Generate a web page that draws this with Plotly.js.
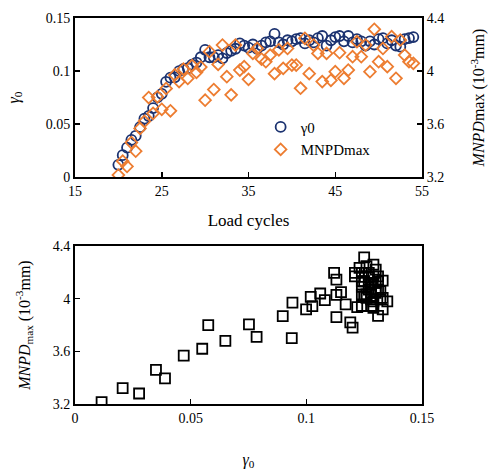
<!DOCTYPE html>
<html><head><meta charset="utf-8">
<script src="https://cdn.plot.ly/plotly-3.0.1.min.js"></script>
<style>body{margin:0;padding:0;background:#fff}#chart{width:489px;height:470px}</style>
</head><body><div id="chart"></div>
<script>
const cycles = [20,20.5,21,21.5,22,22.5,23,23.5,24,24.5,25,25.5,26,26.5,27,27.5,28,28.5,29,29.5,
30,30.5,31,31.5,32,32.5,33,33.5,34,34.5,35,35.5,36,36.5,37,37.5,38,38.5,39,39.5,
40,40.5,41,41.5,42,42.5,43,43.5,44,44.5,45,45.5,46,46.5,47,47.5,48,48.5,49,49.5,
50,50.5,51,51.5,52,52.5,53,53.5,54];
const gamma0 = [0.0115,0.0206,0.0277,0.035,0.0389,0.047,0.055,0.0576,0.065,0.0752,0.0785,0.0898,0.0937,0.094,0.0999,0.1019,0.1026,0.106,0.108,0.113,
0.120,0.113,0.113,0.115,0.112,0.117,0.119,0.121,0.126,0.124,0.122,0.125,0.121,0.124,0.127,0.128,0.135,0.127,0.125,0.129,
0.128,0.130,0.131,0.126,0.129,0.127,0.131,0.133,0.124,0.129,0.132,0.133,0.128,0.133,0.127,0.130,0.128,0.124,0.128,0.125,
0.130,0.131,0.126,0.129,0.124,0.123,0.130,0.131,0.132];
const mnpdMax = [3.215,3.32,3.28,3.46,3.395,3.567,3.62,3.80,3.68,3.805,3.711,3.868,3.70,3.97,3.92,4.015,3.944,4.04,3.99,4.03,
3.78,4.146,3.86,4.05,4.196,3.957,3.82,4.196,4.007,4.033,3.937,4.133,4.17,4.09,4.07,4.12,3.98,4.16,4.02,4.17,
4.045,4.045,3.87,4.247,3.98,4.196,4.133,3.92,4.133,3.93,3.995,4.138,3.945,4.007,4.108,4.221,4.108,4.196,3.995,4.315,
4.07,4.17,4.033,4.259,3.945,4.234,4.12,4.07,4.058];
const xTopTicks = [15,25,35,45,55];
const yLeftTicks = [0,0.05,0.1,0.15];
const yLeftLabels = ['0','0.05','0.1','0.15'];
const mTicks = [3.2,3.6,4.0,4.4];
const mLabels = ['3.2','3.6','4','4.4'];
const xBotTicks = [0,0.05,0.1,0.15];
const xBotLabels = ['0','0.05','0.1','0.15'];

const F = 'Liberation Serif, Times New Roman, serif';
const navy = '#1b3270';
const orange = '#ED7D31';

const traces = [
  {x: cycles, y: gamma0, type:'scatter', mode:'markers', name:'γ0', xaxis:'x', yaxis:'y',
   marker:{symbol:'circle-open', size:10, color:navy, line:{width:1.8, color:navy}}},
  {x: cycles, y: mnpdMax, type:'scatter', mode:'markers', name:'MNPDmax', xaxis:'x', yaxis:'y2',
   marker:{symbol:'diamond-open', size:9, color:orange, line:{width:1.8, color:orange}}},
  {x: gamma0, y: mnpdMax, type:'scatter', mode:'markers', name:'scatter', showlegend:false, xaxis:'x2', yaxis:'y3',
   marker:{symbol:'square-open', size:10, color:'#000', line:{width:1.8, color:'#000'}}}
];

const ax = {showgrid:false, zeroline:false, showline:true, linecolor:'#000', linewidth:2, mirror:true,
  ticks:'inside', ticklen:5, tickwidth:1.5, tickcolor:'#000', tickfont:{family:F, size:14, color:'#000'}};

const layout = {
  width:489, height:470, paper_bgcolor:'#fff', plot_bgcolor:'#fff',
  margin:{l:75, r:67, t:18, b:66},
  showlegend:true,
  legend:{x:0.535, y:0.76, xanchor:'left', yanchor:'top', bgcolor:'rgba(0,0,0,0)',
    font:{family:F, size:15, color:'#000'}, itemwidth:30, tracegroupgap:0},
  xaxis: Object.assign({}, ax, {domain:[0,1], anchor:'y', range:[15,55], tickvals:xTopTicks,
    title:{text:'Load cycles', font:{family:F, size:17, color:'#000'}, standoff:16}}),
  yaxis: Object.assign({}, ax, {domain:[0.588,1], anchor:'x', range:[0,0.15], tickvals:yLeftTicks, ticktext:yLeftLabels,
    title:{text:'<i>γ</i><sub>0</sub>', font:{family:F, size:16, color:'#000'}, standoff:22}}),
  yaxis2: Object.assign({}, ax, {overlaying:'y', side:'right', anchor:'x', range:[3.2,4.4], tickvals:mTicks, ticktext:mLabels, mirror:false,
    title:{text:'<i>MNPD</i>max (10<sup>-3</sup>mm)', font:{family:F, size:16, color:'#000'}, standoff:30}}),
  xaxis2: Object.assign({}, ax, {domain:[0,1], anchor:'y3', range:[0,0.15], tickvals:xBotTicks, ticktext:xBotLabels,
    title:{text:'<i>γ</i><sub>0</sub>', font:{family:F, size:16, color:'#000'}, standoff:30}}),
  yaxis3: Object.assign({}, ax, {domain:[0,0.409], anchor:'x2', range:[3.2,4.4], tickvals:mTicks, ticktext:mLabels,
    title:{text:'<i>MNPD</i><sub>max</sub> (10<sup>-3</sup>mm)', font:{family:F, size:16, color:'#000'}, standoff:18}})
};

Plotly.newPlot('chart', traces, layout, {displayModeBar:false, staticPlot:true});
</script></body></html>
